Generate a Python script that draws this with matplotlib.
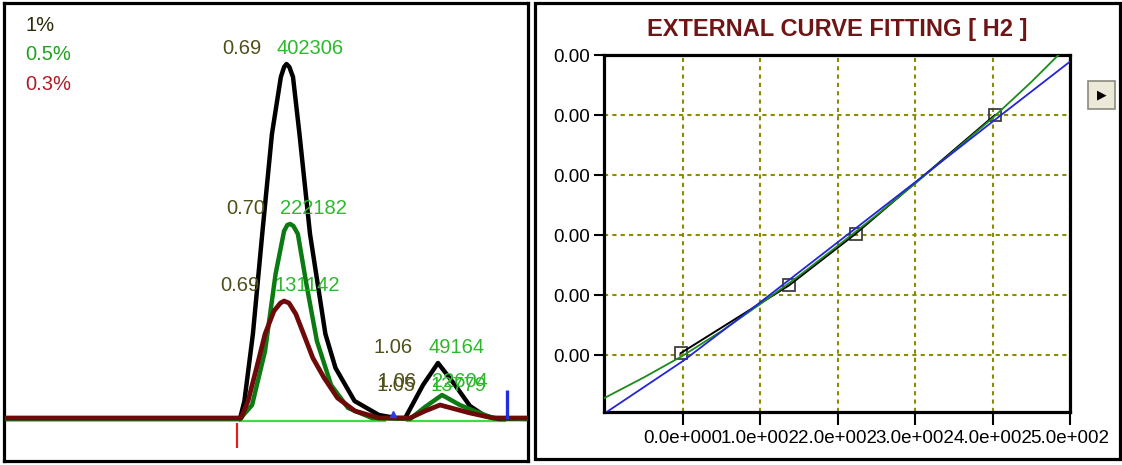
import numpy as np
import matplotlib
matplotlib.use("Agg")
import matplotlib.pyplot as plt
import matplotlib.ticker as mticker
from matplotlib.patches import Rectangle

plt.rcParams['font.family'] = ['Liberation Sans', 'DejaVu Sans']

# ------------------------------------------------------------
# Left panel - chromatogram overlay (time in min, signal in mV)
# ------------------------------------------------------------
LEGEND_TXT = ["1%", "0.5%", "0.3%"]

T_1PCT = [0.0, 0.575, 0.586, 0.607, 0.630, 0.654, 0.676, 0.684, 0.690, 0.697, 0.706, 0.722,
          0.748, 0.786, 0.811, 0.858, 0.918, 0.960, 0.983, 1.027, 1.064, 1.106, 1.143,
          1.180, 1.215, 1.284]
S_1PCT = [0.0, 0.0, 1.8, 8.5, 18.5, 28.5, 34.2, 35.2, 35.5, 35.2, 34.2, 28.5,
          18.5, 8.5, 5.1, 1.8, 0.4, 0.1, 0.1, 3.4, 5.6, 3.4, 1.3,
          0.3, 0.0, 0.0]

T_05PCT = [0.0, 0.575, 0.605, 0.637, 0.663, 0.684, 0.692, 0.699, 0.707, 0.718, 0.739,
           0.765, 0.800, 0.842, 0.901, 0.995, 1.032, 1.074, 1.118, 1.160, 1.200, 1.284]
S_05PCT = [0.0, 0.0, 1.4, 6.8, 14.5, 18.8, 19.4, 19.5, 19.3, 18.5, 13.5,
           7.8, 3.4, 1.1, 0.1, 0.0, 1.2, 2.4, 1.4, 0.7, 0.1, 0.0]

T_03PCT = [0.0, 0.578, 0.595, 0.616, 0.637, 0.659, 0.675, 0.684, 0.696, 0.713, 0.736,
           0.755, 0.783, 0.816, 0.859, 0.918, 0.995, 1.032, 1.069, 1.106, 1.143, 1.200,
           1.284]
S_03PCT = [0.1, 0.1, 1.8, 5.1, 8.5, 10.8, 11.6, 11.8, 11.6, 10.5, 8.1,
           6.1, 4.1, 2.1, 0.8, 0.1, 0.1, 0.8, 1.4, 1.0, 0.6, 0.1,
           0.1]

# peak annotations: apex (time, height), retention time, area
PEAK_T = [0.690, 0.699, 0.684, 1.064, 1.074, 1.069]
PEAK_H = [35.5, 19.5, 11.8, 5.6, 2.4, 1.4]
PEAK_RT = ["0.69", "0.70", "0.69", "1.06", "1.06", "1.05"]
PEAK_AREA = ["402306", "222182", "131142", "49164", "22604", "13779"]

# integration events
BASE_START = [0.573, 0.985]
BASE_END = [0.936, 1.232]
INJ_MARK = 0.568
END_MARK = 1.234
END_MARK_H = 2.9
VALLEY_MARK = 0.953

# ------------------------------------------------------------
# Right panel - external curve fitting
# ------------------------------------------------------------
FIT_X = [-102, 0, 100, 200, 300, 400, 500]
FIT_LIN = [0.00001, 0.00045, 0.00094, 0.00144, 0.00194, 0.002445, 0.002945]
CURVE_X = [-102, -50, 0, 50, 100, 150, 200, 250, 300, 350, 400, 450, 485]
CURVE_Y = [0.00014, 0.000315, 0.000495, 0.0007, 0.000925, 0.00116, 0.00141,
           0.001665, 0.00193, 0.0022, 0.002475, 0.002775, 0.003]
STD_X = [-3, 137, 223, 403]
STD_Y = [0.000515, 0.00108, 0.00151, 0.0025]
X_TICKS = [0, 100, 200, 300, 400, 500]
Y_TICKS = [0.0005, 0.0010, 0.0015, 0.0020, 0.0025, 0.0030]

W, H = 1122, 465


def box(x0, y0, x1, y1):
    return [x0 / W, 1 - y1 / H, (x1 - x0) / W, (y1 - y0) / H]


def sci3(v, pos):
    if v == 0:
        return "0.0e+000"
    e = int(np.floor(np.log10(abs(v))))
    return f"{v / 10**e:.1f}e{e:+04d}"


fig = plt.figure(figsize=(11.22, 4.65), dpi=100)

# ---------------- left panel ----------------
ax1 = fig.add_axes(box(3.5, 3.5, 527.5, 460.5))
ax1.set_xlim(-0.0088, 1.285)
ax1.set_ylim(-4.15, 41.55)
ax1.set_xticks([])
ax1.set_yticks([])
for sp in ax1.spines.values():
    sp.set_linewidth(2.3)

ax1.hlines([-0.15] * len(BASE_START), BASE_START, BASE_END, color="#3ce03c", lw=1.6, zorder=2)
ax1.plot(T_1PCT, S_1PCT, color="#000000", lw=3.2, zorder=3, solid_joinstyle="round")
ax1.plot(T_05PCT, S_05PCT, color="#0c7a12", lw=3.2, zorder=4, solid_joinstyle="round")
ax1.plot(T_03PCT, S_03PCT, color="#6e0a0a", lw=3.4, zorder=5, solid_joinstyle="round")
ax1.vlines(INJ_MARK, -2.9, -0.4, color="#e02020", lw=1.6, zorder=6)
ax1.vlines(END_MARK, 0, END_MARK_H, color="#1f2fe0", lw=2.4, zorder=6)
ax1.plot([VALLEY_MARK], [0.5], marker="^", ms=5, color="#2a3ae8", zorder=6)

leg_cols = ["#2b2b08", "#1fa31f", "#b01c28"]
for i, (txt, c) in enumerate(zip(LEGEND_TXT, leg_cols)):
    ax1.text(22 / 524, 1 - (22 + i * 29.5) / 457, txt, transform=ax1.transAxes,
             color=c, fontsize=14.5, va="center", ha="left")

# vertical label offsets (pt); the two small-peak labels sit on top of each other
label_dy = [11, 11, 11, 11, 10, 14]
for t, h, rt, area, dy in zip(PEAK_T, PEAK_H, PEAK_RT, PEAK_AREA, label_dy):
    ax1.annotate(rt, (t, h), xytext=(-18, dy), textcoords="offset points",
                 color="#50501a", fontsize=14.5, ha="right", va="center", zorder=7)
    ax1.annotate(area, (t, h), xytext=(-7, dy), textcoords="offset points",
                 color="#2eb82e", fontsize=14.5, ha="left", va="center", zorder=7)

# ---------------- right panel ----------------
fig.add_artist(Rectangle((534.5 / W, 1 - 458.5 / H), 585 / W, 455 / H,
                         transform=fig.transFigure, fill=False, lw=2.3, ec="black"))

ax2 = fig.add_axes(box(604, 55, 1070, 412))
ax2.set_xlim(-102, 500)
ax2.set_ylim(0.000025, 0.003)
ax2.set_xticks(X_TICKS)
ax2.set_yticks(Y_TICKS)
ax2.xaxis.set_major_formatter(mticker.FuncFormatter(sci3))
ax2.yaxis.set_major_formatter(mticker.FormatStrFormatter("%.2f"))
ax2.tick_params(axis="both", direction="out", labelsize=13.5, width=1.5, colors="black")
ax2.tick_params(axis="x", length=9, pad=4)
ax2.tick_params(axis="y", length=7, pad=3)
for sp in ax2.spines.values():
    sp.set_linewidth(2.3)
ax2.grid(True, color="#8c8c00", lw=1.5, linestyle=(0, (2, 2)))
ax2.set_axisbelow(True)

ax2.plot(STD_X, STD_Y, ls="none", marker="s", ms=9, mfc="none", mec="#404040", mew=1.3, zorder=3)
ax2.plot(STD_X, STD_Y, color="black", lw=1.4, zorder=3)
ax2.plot(CURVE_X, CURVE_Y, color="#1c8a1c", lw=1.3, zorder=4)
ax2.plot(FIT_X, FIT_LIN, color="#2424d8", lw=1.3, zorder=5)
ax2.set_title("EXTERNAL CURVE FITTING [ H2 ]", color="#701515", fontsize=17,
              fontweight="bold", pad=14)

# small scroll button at the right
fig.add_artist(Rectangle((1088 / W, 1 - 109 / H), 27 / W, 28 / H, transform=fig.transFigure,
                         fc="#ece9d8", ec="#8a8a80", lw=1.2))
fig.text(1102 / W, 1 - 95 / H, "\u25B6", fontsize=9, color="black", ha="center", va="center",
         family=["DejaVu Sans"])

fig.savefig("out.png", dpi=100)
